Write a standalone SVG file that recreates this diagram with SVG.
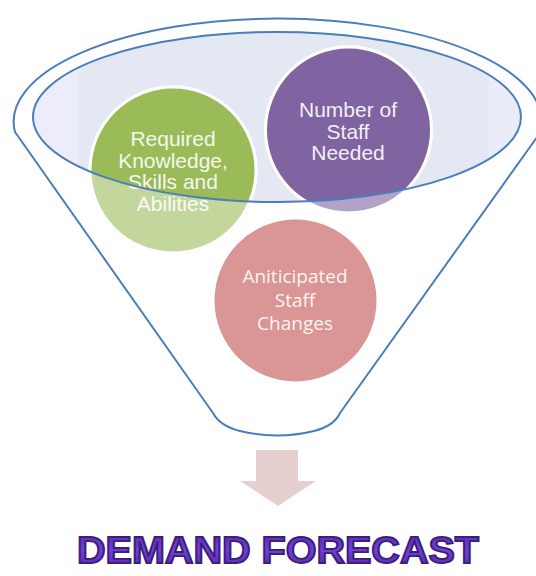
<svg xmlns="http://www.w3.org/2000/svg" width="536" height="576" viewBox="0 0 536 576">
  <style>
    .outline { fill: none; stroke: #4a7ebb; stroke-width: 2; stroke-linejoin: round; }
    .ring { stroke: #ffffff; stroke-width: 3; }
    .label { font-family: "Liberation Sans", Arial, sans-serif; font-size: 21px; fill: #ffffff; fill-opacity: 0.92; text-anchor: middle; }
    .label-soft { font-family: "Open Sans", "Noto Sans", sans-serif; font-size: 19px; fill: #ffffff; fill-opacity: 0.92; text-anchor: middle; }
    .title { font-family: "Liberation Sans", Arial, sans-serif; font-size: 36px; font-weight: bold; text-anchor: middle; }
  </style>
  <defs>
    <clipPath id="mouth">
      <ellipse cx="277" cy="117" rx="244" ry="85"/>
    </clipPath>
    <linearGradient id="mouthFill" x1="0" y1="0" x2="1" y2="0">
      <stop offset="0" stop-color="#ececfb"/>
      <stop offset="0.09" stop-color="#ececfb"/>
      <stop offset="0.095" stop-color="#e3e8f2"/>
      <stop offset="0.93" stop-color="#e3e8f2"/>
      <stop offset="0.935" stop-color="#ebecf9"/>
      <stop offset="1" stop-color="#ebecf9"/>
    </linearGradient>
    <linearGradient id="titleFill" x1="0" y1="0" x2="0" y2="1">
      <stop offset="0" stop-color="#5a2aae"/>
      <stop offset="0.5" stop-color="#7040d4"/>
      <stop offset="1" stop-color="#5426a6"/>
    </linearGradient>
  </defs>

  <!-- funnel body -->
  <g id="funnel">
    <path class="outline" d="M 15,132 A 264,103 0 1 1 540,133 L 340,413 Q 334,426 314,431 Q 277,440 240,431 Q 220,426 213,413 Z"/>
    <ellipse cx="277" cy="117" rx="244" ry="85" fill="url(#mouthFill)"/>
  </g>

  <!-- requirement circles -->
  <g id="node-ksa">
    <circle class="ring" cx="173" cy="170" r="83" fill="#c3d69b"/>
    <circle class="ring" cx="173" cy="170" r="83" fill="#9bbb59" clip-path="url(#mouth)"/>
    <text class="label" x="173" y="146">Required</text>
    <text class="label" x="173" y="167.5">Knowledge,</text>
    <text class="label" x="173" y="189">Skills and</text>
    <text class="label" x="173" y="210.5">Abilities</text>
  </g>

  <g id="node-staff-needed">
    <circle class="ring" cx="348.5" cy="130" r="83" fill="#b3a2c7"/>
    <circle class="ring" cx="348.5" cy="130" r="83" fill="#8064a2" clip-path="url(#mouth)"/>
    <text class="label" x="348" y="117">Number of</text>
    <text class="label" x="348" y="138.5">Staff</text>
    <text class="label" x="348" y="160">Needed</text>
  </g>

  <g id="node-staff-changes">
    <circle class="ring" cx="295.5" cy="300.5" r="82.5" fill="#d99694"/>
    <text class="label-soft" x="295" y="283">Aniticipated</text>
    <text class="label-soft" x="295" y="306.5">Staff</text>
    <text class="label-soft" x="295" y="330">Changes</text>
  </g>

  <!-- mouth rim drawn over the circles, and the outflow arrow -->
  <g id="connectors">
    <ellipse class="outline" cx="277" cy="117" rx="244" ry="85"/>
    <polygon id="arrow-down" points="256,450 298,450 298,481 316,481 278,506 240,481 256,481" fill="#e6cfcf"/>
  </g>

  <!-- result -->
  <g id="result">
    <text class="title" x="278" y="563" textLength="402" lengthAdjust="spacingAndGlyphs" fill="url(#titleFill)" stroke="#3b1d7a" stroke-width="1.8">DEMAND FORECAST</text>
  </g>
</svg>
